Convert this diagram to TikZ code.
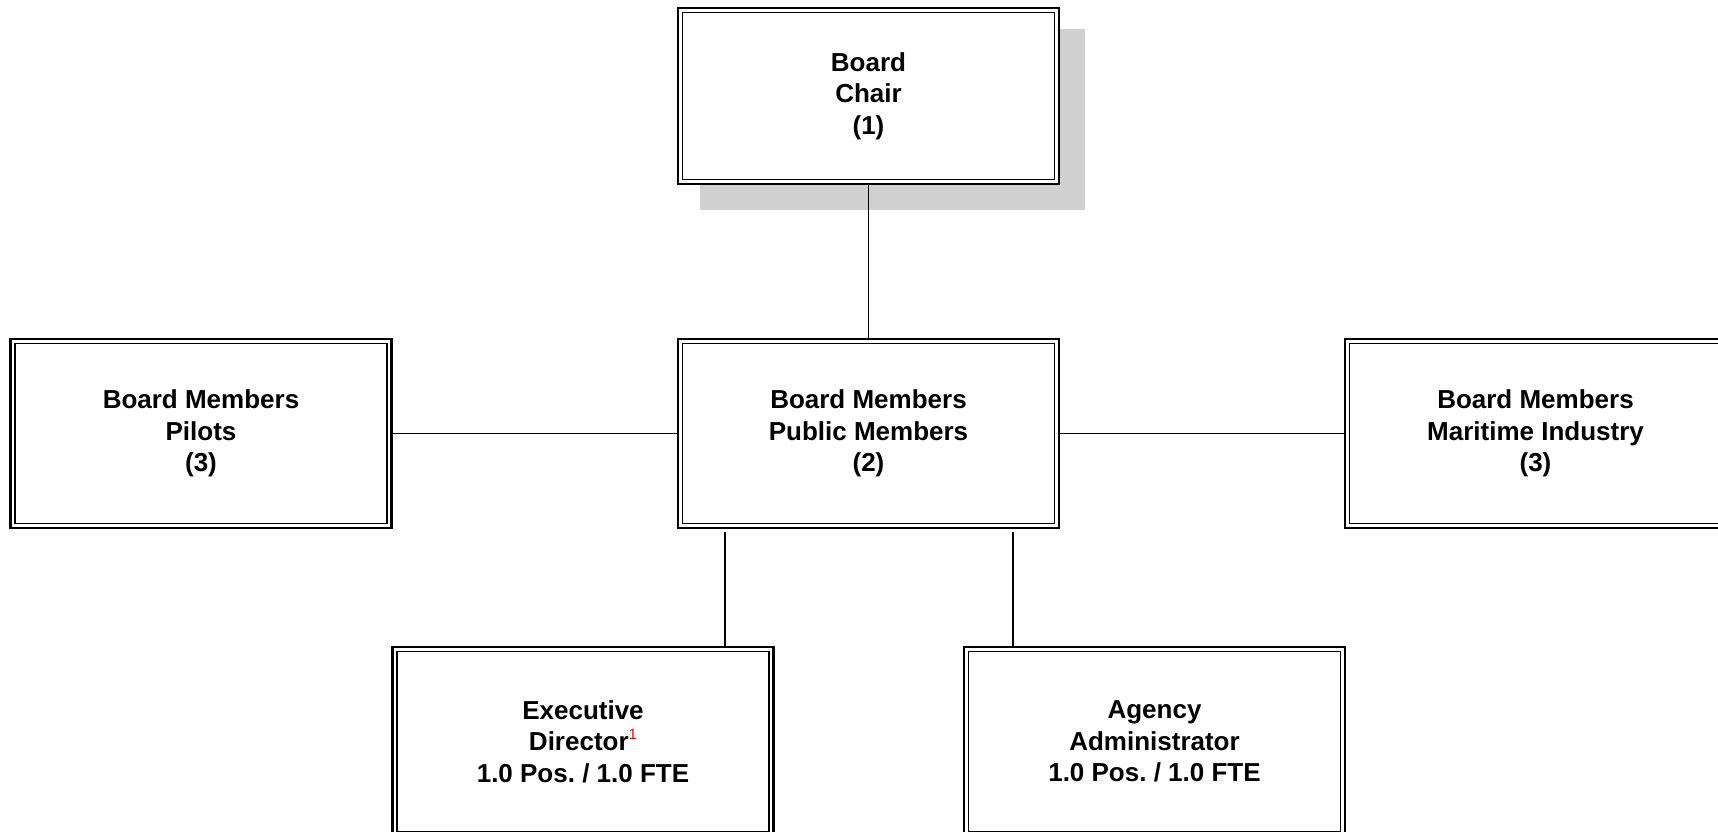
\documentclass[tikz,border=0pt]{standalone}
\usepackage{fontspec}
\setmainfont{Liberation Sans}
\frenchspacing
\usetikzlibrary{backgrounds}
\definecolor{shadowgray}{RGB}{208,208,208}
\definecolor{noteRed}{RGB}{255,0,0}
\tikzset{
  orgbox/.style={
    draw=black, fill=white, line width=2.4pt,
    minimum width=381pt, minimum height=189pt,
    inner sep=0pt, align=center,
    font=\fontsize{26}{31.5}\selectfont\bfseries,
    path picture={
      \draw[line width=1.3pt]
        ([shift={(4.5pt,-4.5pt)}]path picture bounding box.north west) rectangle
        ([shift={(-4.5pt,4.5pt)}]path picture bounding box.south east);
    }
  },
  link/.style={draw=black, line width=1.7pt}
}
\newcommand{\notemark}[1]{\raisebox{11pt}{\fontsize{15}{15}\selectfont\mdseries\color{noteRed}#1}}
\begin{document}
\begin{tikzpicture}[x=1pt, y=-1pt]
  \clip (0,0) rectangle (1718,831);

  % chair at the top, with its drop shadow
  \node[orgbox, minimum height=176pt] (chair) at (868.5,96) {Board\\Chair\\(1)};
  \begin{pgfonlayer}{background}
    \fill[shadowgray] ([shift={(23pt,-22pt)}]chair.north west) rectangle
                      ([shift={(25pt,-25pt)}]chair.south east);
  \end{pgfonlayer}

  % middle row
  \node[orgbox] (public)   at (868.5,433.5) {Board Members\\Public Members\\(2)};
  \node[orgbox] (pilots)   at (201,433.5)   {Board Members\\Pilots\\(3)};
  \node[orgbox] (maritime) at (1535.5,433.5) {Board Members\\Maritime Industry\\(3)};

  % staff row
  \node[orgbox] (exec)   at (583,741.5)    {Executive\\Director\notemark{1}\\1.0 Pos. / 1.0 FTE};
  \node[orgbox] (agency) at (1154.5,741.5) {Agency\\Administrator\\1.0 Pos. / 1.0 FTE};

  % connectors
  \draw[link] (chair.south) -- (public.north);
  \draw[link] (pilots.east) -- (public.west);
  \draw[link] (public.east) -- (maritime.west);
  \coordinate (pubL) at ([xshift=48pt,yshift=-3pt]public.south west);
  \coordinate (pubR) at ([xshift=-47pt,yshift=-3pt]public.south east);
  \draw[link] (pubL) -- (pubL |- exec.north);
  \draw[link] (pubR) -- (pubR |- agency.north);
\end{tikzpicture}
\end{document}
